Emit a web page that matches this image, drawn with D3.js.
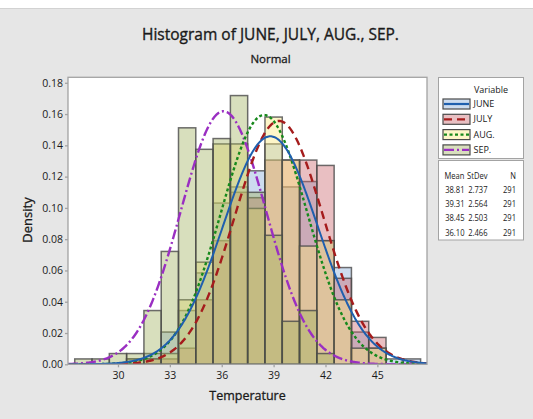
<!DOCTYPE html>
<html>
<head>
<meta charset="utf-8">
<script src="https://cdn.jsdelivr.net/npm/d3@7"></script>
<style>
body { margin: 0; background: #fff; }
text { font-family: "Open Sans", "Noto Sans", sans-serif; fill: #1a1a1a; }
</style>
</head>
<body>
<div id="chart"></div>
<script>
var width = 533, height = 419;

// bin centres, bin width = 1
var bins = [28, 29, 30, 31, 32, 33, 34, 35, 36, 37, 38, 39, 40, 41, 42, 43, 44, 45, 46, 47];
// counts per bin (N = 291 each)
var june = [0, 0, 0, 1, 2, 6, 10, 17, 30, 33, 36, 41, 33, 34, 23, 18, 6, 3, 1, 1];
var july = [0, 0, 0, 0, 1, 1, 3, 12, 23, 32, 31, 38, 38, 38, 37, 16, 8, 5, 0, 0];
var aug  = [0, 0, 0, 1, 1, 2, 12, 19, 41, 41, 29, 46, 38, 22, 23, 12, 3, 3, 0, 0];
var sep  = [1, 1, 2, 2, 10, 21, 44, 40, 42, 50, 32, 24, 8, 10, 2, 0, 0, 0, 0, 0];

var names = ['JUNE', 'JULY', 'AUG.', 'SEP.'];
var means = [38.81, 39.31, 38.45, 36.10];
var stdevs = [2.737, 2.564, 2.503, 2.466];
var counts = [291, 291, 291, 291];

var xTicks = [30, 33, 36, 39, 42, 45];
var yTicks = [0, 0.02, 0.04, 0.06, 0.08, 0.10, 0.12, 0.14, 0.16, 0.18];

var fills = ['#82a8d7', '#c85f66', '#fae875', '#9daf5a'];
var lineColors = ['#1f5fae', '#a51c1c', '#17891c', '#9a2fc2'];
var dashes = [null, '8 5', '3 2.5', '10 3 2 3'];

var series = [june, july, aug, sep];

var svg = d3.select('#chart')
    .append('svg')
    .attr('width', width)
    .attr('height', height);

// background
svg.append('rect').attr('width', width).attr('height', height).attr('fill', '#e6e6e6');
svg.append('rect').attr('width', width).attr('height', 8).attr('fill', '#fff');
svg.append('line').attr('x1', 0).attr('x2', width).attr('y1', 8.5).attr('y2', 8.5)
    .attr('stroke', '#d2d2d2');

var x = d3.scaleLinear().domain([27.11, 47.87]).range([68, 427]);
var y = d3.scaleLinear().domain([0, 0.1835]).range([364.3, 77.3]);

svg.append('rect')
    .attr('x', 68).attr('y', 77.3)
    .attr('width', 427 - 68).attr('height', 364.3 - 77.3)
    .attr('fill', '#fff');

svg.append('clipPath').attr('id', 'clip')
    .append('rect')
    .attr('x', 68).attr('y', 77.3)
    .attr('width', 427 - 68).attr('height', 364.3 - 77.3);

var plot = svg.append('g').attr('clip-path', 'url(#clip)');

// histograms
series.forEach(function(s, i) {
    var data = bins.map(function(b, j) { return { bin: b, c: s[j] }; })
        .filter(function(d) { return d.c > 0; });
    plot.append('g')
        .selectAll('rect')
        .data(data)
        .enter()
        .append('rect')
        .attr('x', function(d) { return x(d.bin - 0.5); })
        .attr('width', function(d) { return x(d.bin + 0.5) - x(d.bin - 0.5); })
        .attr('y', function(d) { return y(d.c / counts[i]); })
        .attr('height', function(d) { return y(0) - y(d.c / counts[i]); })
        .attr('fill', fills[i])
        .attr('fill-opacity', 0.4)
        .attr('stroke', '#4a4a4a')
        .attr('stroke-opacity', 0.8)
        .attr('stroke-width', 1.5);
});

// fitted normal curves
function pdf(v, m, sd) {
    var z = (v - m) / sd;
    return Math.exp(-0.5 * z * z) / (sd * Math.sqrt(2 * Math.PI));
}
var xs = d3.range(x.domain()[0], x.domain()[1] + 0.05, 0.05);
[3, 2, 1, 0].forEach(function(i) {
    var line = d3.line()
        .x(function(v) { return x(v); })
        .y(function(v) { return y(pdf(v, means[i], stdevs[i])); });
    plot.append('path')
        .datum(xs)
        .attr('d', line)
        .attr('fill', 'none')
        .attr('stroke', lineColors[i])
        .attr('stroke-width', i == 0 ? 2 : 2.4)
        .attr('stroke-dasharray', dashes[i]);
});

// frame
svg.append('rect')
    .attr('x', 68).attr('y', 77.3)
    .attr('width', 427 - 68).attr('height', 364.3 - 77.3)
    .attr('fill', 'none')
    .attr('stroke', '#a3a3a3')
    .attr('stroke-width', 1.3);

// axes
var yAxis = d3.axisLeft(y).tickValues(yTicks).tickFormat(d3.format('.2f')).tickSize(3).tickPadding(2);
var gy = svg.append('g').attr('transform', 'translate(68,0)').call(yAxis);
var xAxis = d3.axisBottom(x).tickValues(xTicks).tickSize(3).tickPadding(4);
var gx = svg.append('g').attr('transform', 'translate(0,364.3)').call(xAxis);
[gy, gx].forEach(function(g) {
    g.select('.domain').remove();
    g.selectAll('.tick line').attr('stroke', '#a3a3a3').attr('stroke-width', 1.3);
    g.selectAll('.tick text').style('font-family', '"Open Sans", sans-serif')
        .style('font-size', '10.5px').attr('fill', '#111');
});

// titles (regular weight, thickened a little with a thin stroke)
function heading(t, fs, sw) {
    return t.style('font-size', fs).attr('stroke', '#1a1a1a').attr('stroke-width', sw);
}
heading(svg.append('text').attr('x', 270.5).attr('y', 40).attr('text-anchor', 'middle'), '15.5px', 0.35)
    .text('Histogram of JUNE, JULY, AUG., SEP.');
heading(svg.append('text').attr('x', 270.5).attr('y', 63).attr('text-anchor', 'middle'), '11.5px', 0.3)
    .text('Normal');
heading(svg.append('text').attr('x', 247.5).attr('y', 399.5).attr('text-anchor', 'middle'), '12.5px', 0.3)
    .text('Temperature');
heading(svg.append('text').attr('transform', 'translate(31.5,220) rotate(-90)').attr('text-anchor', 'middle'), '13px', 0.3)
    .text('Density');

// legend
var lg = svg.append('g');
lg.append('rect').attr('x', 438.5).attr('y', 77.5).attr('width', 85).attr('height', 81)
    .attr('fill', '#fff').attr('stroke', '#a3a3a3');
lg.append('text').attr('x', 491).attr('y', 93).attr('text-anchor', 'middle')
    .style('font-size', '9px').text('Variable');
names.forEach(function(n, i) {
    var cy = 104 + i * 15.3;
    lg.append('rect').attr('x', 443).attr('y', cy - 5).attr('width', 27).attr('height', 10)
        .attr('fill', fills[i]).attr('fill-opacity', 0.4)
        .attr('stroke', '#4a4a4a').attr('stroke-width', 1.2);
    lg.append('line').attr('x1', 444).attr('x2', 469).attr('y1', cy).attr('y2', cy)
        .attr('stroke', lineColors[i]).attr('stroke-width', 2.2)
        .attr('stroke-dasharray', dashes[i]);
    lg.append('text').attr('x', 473.5).attr('y', cy + 3).style('font-size', '9px').text(n);
});

lg.append('rect').attr('x', 438.5).attr('y', 160.5).attr('width', 85).attr('height', 79.5)
    .attr('fill', '#fff').attr('stroke', '#a3a3a3');
var cols = [464.5, 487.5, 516];
function statText(px, py, t) {
    lg.append('text')
        .attr('transform', 'translate(' + px + ',' + py + ') scale(0.8,1)')
        .attr('text-anchor', 'end')
        .style('font-size', '9.5px')
        .text(t);
}
['Mean', 'StDev', 'N'].forEach(function(h, k) {
    statText(cols[k], 178.5, h);
});
names.forEach(function(n, i) {
    var ry = 192.8 + i * 14.3;
    var vals = [means[i].toFixed(2), stdevs[i].toFixed(3), counts[i]];
    vals.forEach(function(v, k) {
        statText(cols[k], ry, v);
    });
});
</script>
</body>
</html>
